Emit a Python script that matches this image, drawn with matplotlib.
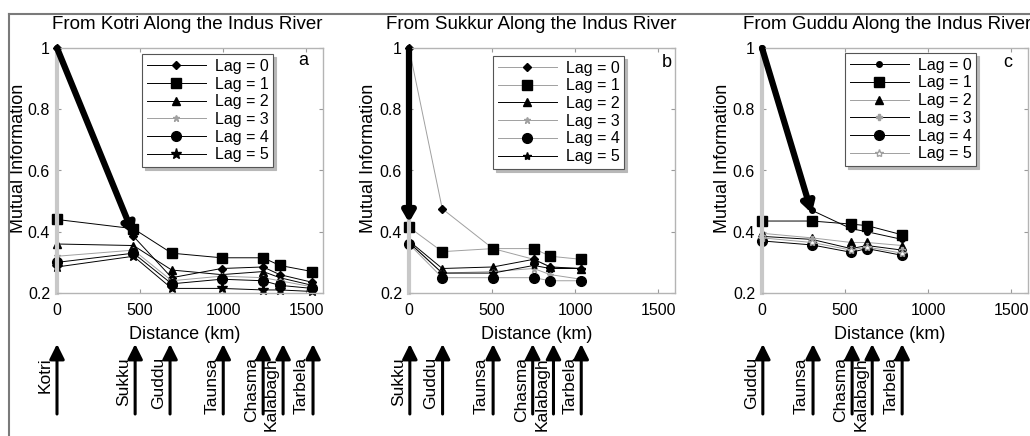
import matplotlib
matplotlib.use("Agg")
import matplotlib.pyplot as plt
from matplotlib.lines import Line2D

plt.rcParams['font.family'] = ['Liberation Sans', 'DejaVu Sans']

# ---------------- data ----------------
lag_labels = ['Lag = 0', 'Lag = 1', 'Lag = 2', 'Lag = 3', 'Lag = 4', 'Lag = 5']

titles = ['From Kotri Along the Indus River',
          'From Sukkur Along the Indus River',
          'From Guddu Along the Indus River']
panel_letters = ['a', 'b', 'c']

# Panel a: from Kotri
dist_a = [0, 460, 690, 990, 1240, 1340, 1535]
mi_a_lag0 = [1.0, 0.385, 0.25, 0.28, 0.285, 0.26, 0.235]
mi_a_lag1 = [0.44, 0.41, 0.33, 0.315, 0.315, 0.29, 0.27]
mi_a_lag2 = [0.36, 0.355, 0.275, 0.26, 0.27, 0.25, 0.225]
mi_a_lag3 = [0.32, 0.34, 0.24, 0.255, 0.25, 0.24, 0.22]
mi_a_lag4 = [0.30, 0.33, 0.23, 0.245, 0.24, 0.225, 0.215]
mi_a_lag5 = [0.285, 0.32, 0.215, 0.215, 0.21, 0.21, 0.205]
thick_a_x = [0, 460]
thick_a_y = [1.0, 0.39]
stations_a = ['Kotri', 'Sukku', 'Guddu', 'Taunsa', 'Chasma', 'Kalabagh', 'Tarbela']
station_km_a = [0, 470, 680, 1000, 1240, 1360, 1540]

# Panel b: from Sukkur
dist_b = [0, 200, 505, 750, 850, 1035]
mi_b_lag0 = [1.0, 0.475, 0.345, 0.31, 0.285, 0.28]
mi_b_lag1 = [0.415, 0.335, 0.345, 0.345, 0.32, 0.31]
mi_b_lag2 = [0.37, 0.28, 0.285, 0.31, 0.285, 0.28]
mi_b_lag3 = [0.365, 0.265, 0.27, 0.28, 0.26, 0.245]
mi_b_lag4 = [0.36, 0.25, 0.25, 0.25, 0.24, 0.24]
mi_b_lag5 = [0.365, 0.265, 0.265, 0.29, 0.28, 0.28]
thick_b_x = [0, 0]
thick_b_y = [1.0, 0.43]
stations_b = ['Sukku', 'Guddu', 'Taunsa', 'Chasma', 'Kalabagh', 'Tarbela']
station_km_b = [5, 202, 506, 744, 869, 1036]

# Panel c: from Guddu
dist_c = [0, 300, 536, 632, 843]
mi_c_lag0 = [1.0, 0.47, 0.41, 0.40, 0.375]
mi_c_lag1 = [0.435, 0.435, 0.425, 0.42, 0.39]
mi_c_lag2 = [0.395, 0.38, 0.365, 0.365, 0.355]
mi_c_lag3 = [0.385, 0.375, 0.345, 0.355, 0.34]
mi_c_lag4 = [0.37, 0.357, 0.333, 0.345, 0.323]
mi_c_lag5 = [0.38, 0.365, 0.34, 0.35, 0.33]
thick_c_x = [0, 300]
thick_c_y = [1.0, 0.46]
stations_c = ['Guddu', 'Taunsa', 'Chasma', 'Kalabagh', 'Tarbela']
station_km_c = [5, 307, 542, 663, 843]

yticks = [0.2, 0.4, 0.6, 0.8, 1.0]
ytick_labels = ['0.2', '0.4', '0.6', '0.8', '1']
xticks = [0, 500, 1000, 1500]

# ---------------- styles ----------------
GRAY = '#a0a0a0'
styles = {
    'a': [dict(marker='D', ms=4, color='k', mfc='k', mec='k'),
          dict(marker='s', ms=7, color='k', mfc='k', mec='k'),
          dict(marker='^', ms=6, color='k', mfc='k', mec='k'),
          dict(marker='*', ms=5, color=GRAY, mfc=GRAY, mec=GRAY),
          dict(marker='o', ms=7, color='k', mfc='k', mec='k'),
          dict(marker='*', ms=8, color='k', mfc='k', mec='k')],
    'b': [dict(marker='D', ms=4, color=GRAY, mfc='k', mec='k'),
          dict(marker='s', ms=7, color=GRAY, mfc='k', mec='k'),
          dict(marker='^', ms=6, color='k', mfc='k', mec='k'),
          dict(marker='*', ms=5, color=GRAY, mfc=GRAY, mec=GRAY),
          dict(marker='o', ms=7, color=GRAY, mfc='k', mec='k'),
          dict(marker='*', ms=6, color='k', mfc='k', mec='k')],
    'c': [dict(marker='o', ms=4, color='k', mfc='k', mec='k'),
          dict(marker='s', ms=7, color='k', mfc='k', mec='k'),
          dict(marker='^', ms=6, color=GRAY, mfc='k', mec='k'),
          dict(marker='P', ms=5, color='k', mfc=GRAY, mec=GRAY),
          dict(marker='o', ms=7, color='k', mfc='k', mec='k'),
          dict(marker='*', ms=6, color=GRAY, mfc='white', mec=GRAY)],
}

W, H = 1030, 436
fig = plt.figure(figsize=(W / 100, H / 100), dpi=100)

# outer frame
fig.add_artist(Line2D([9 / W, 9 / W], [0, 1 - 14 / H], transform=fig.transFigure,
                      color='#7a7a7a', lw=1.5))
fig.add_artist(Line2D([9 / W, 1], [1 - 14 / H, 1 - 14 / H], transform=fig.transFigure,
                      color='#7a7a7a', lw=1.5))

ax_bottom_px, ax_top_px = 293, 48
ax_h_px = ax_bottom_px - ax_top_px
ax_w_px = 266

panels = [
    dict(key='a', left=57, dist=dist_a,
         series=[mi_a_lag0, mi_a_lag1, mi_a_lag2, mi_a_lag3, mi_a_lag4, mi_a_lag5],
         thick=(thick_a_x, thick_a_y), stations=stations_a, skm=station_km_a,
         title_x=0.49, ylab_x=-0.112, leg=(0.32, 0.975), letter=(0.925, 0.95)),
    dict(key='b', left=409, dist=dist_b,
         series=[mi_b_lag0, mi_b_lag1, mi_b_lag2, mi_b_lag3, mi_b_lag4, mi_b_lag5],
         thick=(thick_b_x, thick_b_y), stations=stations_b, skm=station_km_b,
         title_x=0.46, ylab_x=-0.122, leg=(0.316, 0.968), letter=(0.97, 0.94)),
    dict(key='c', left=762, dist=dist_c,
         series=[mi_c_lag0, mi_c_lag1, mi_c_lag2, mi_c_lag3, mi_c_lag4, mi_c_lag5],
         thick=(thick_c_x, thick_c_y), stations=stations_c, skm=station_km_c,
         title_x=0.47, ylab_x=-0.118, leg=(0.312, 0.98), letter=(0.925, 0.94)),
]


def pyfrac(py):
    return (ax_bottom_px - py) / ax_h_px


for i, p in enumerate(panels):
    ax = fig.add_axes([p['left'] / W, (H - ax_bottom_px) / H, ax_w_px / W, ax_h_px / H])
    ax.set_xlim(0, 1600)
    ax.set_ylim(0.2, 1.0)
    for sp in ax.spines.values():
        sp.set_color('#b4b4b4')
        sp.set_linewidth(1.0)
    ax.spines['left'].set_color('#c8c8c8')
    ax.spines['left'].set_linewidth(3)
    ax.set_xticks(xticks)
    ax.set_yticks(yticks)
    ax.set_yticklabels(ytick_labels)
    ax.tick_params(direction='in', length=3, width=0.8, color='#9a9a9a',
                   top=True, right=True, labelsize=11.5, pad=5)
    ax.tick_params(axis='x', pad=7)

    st = styles[p['key']]
    handles = []
    for s, lab, sty in zip(p['series'], lag_labels, st):
        ln, = ax.plot(p['dist'], s, lw=0.7, label=lab, clip_on=False, **sty)
        handles.append(ln)
    tx, ty = p['thick']
    ax.annotate('', xy=(tx[1], ty[1]), xytext=(tx[0], ty[0]),
                arrowprops=dict(arrowstyle='-|>,head_width=0.35,head_length=0.6',
                                lw=4.5, color='k', shrinkA=0, shrinkB=0),
                annotation_clip=False)

    leg = ax.legend(handles=handles, loc='upper left', bbox_to_anchor=p['leg'],
                    fontsize=11.5, handlelength=3.7, handletextpad=0.55,
                    labelspacing=0.17, borderpad=0.3, borderaxespad=0,
                    fancybox=False, framealpha=1, edgecolor='#555555',
                    shadow={'color': '#b8b8b8', 'alpha': 1})
    leg.get_frame().set_linewidth(0.8)

    ax.text(p['title_x'], 1.094, titles[i], transform=ax.transAxes,
            ha='center', va='center', fontsize=13.5)
    ax.text(p['letter'][0], p['letter'][1], panel_letters[i], transform=ax.transAxes,
            ha='center', va='center', fontsize=13)
    ax.set_ylabel('Mutual Information', fontsize=13)
    ax.yaxis.set_label_coords(p['ylab_x'], 0.55)
    ax.set_xlabel('Distance (km)', fontsize=13)
    ax.xaxis.set_label_coords(0.48, -0.135)

    # station arrows and labels below the axes
    tr = ax.get_xaxis_transform()
    for name, km in zip(p['stations'], p['skm']):
        ax.annotate('', xy=(km, pyfrac(344)), xytext=(km, pyfrac(414)), xycoords=tr,
                    arrowprops=dict(arrowstyle='-|>,head_width=0.45,head_length=0.9',
                                    lw=2.2, color='k', shrinkA=0, shrinkB=0),
                    annotation_clip=False)
        ax.annotate(name, xy=(km, pyfrac(357)), xycoords=tr,
                    xytext=(-4, 0), textcoords='offset pixels',
                    rotation=90, ha='right', va='top', fontsize=12.5,
                    annotation_clip=False)

fig.savefig('out.png', dpi=100)
